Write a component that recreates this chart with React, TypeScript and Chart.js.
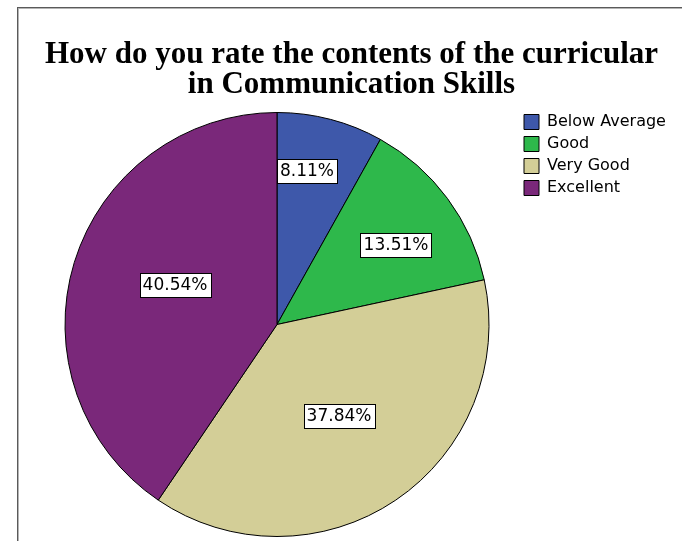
import React, { useEffect, useRef } from "react";
import { Chart, registerables } from "chart.js";

Chart.register(...registerables);

const categories = ["Below Average", "Good", "Very Good", "Excellent"];
const percentages = [8.11, 13.51, 37.84, 40.54];
const titleLines = ["How do you rate the contents of the curricular", "in Communication Skills"];
const sliceColors = ["#3e58aa", "#2eb84b", "#d3ce97", "#7a287a"];
const labelRadiusFactors = [0.74, 0.676, 0.523, 0.515];
const labelAngleFractions = [0.38, 0.553, 0.5, 0.527];

const sliceLabelPlugin = {
  id: "sliceLabels",
  afterDatasetsDraw(chart: any) {
    const ctx = chart.ctx;
    const meta = chart.getDatasetMeta(0);
    ctx.save();
    ctx.font = '17px "DejaVu Sans"';
    ctx.textAlign = "center";
    ctx.textBaseline = "middle";
    meta.data.forEach((arc: any, i: number) => {
      const p = arc.getProps(["x", "y", "startAngle", "endAngle", "outerRadius"], true);
      const ang = p.startAngle + (p.endAngle - p.startAngle) * labelAngleFractions[i];
      const r = p.outerRadius * labelRadiusFactors[i];
      const cx = p.x + Math.cos(ang) * r;
      const cy = p.y + Math.sin(ang) * r;
      const text = percentages[i].toFixed(2) + "%";
      const w = Math.round(ctx.measureText(text).width + 6);
      const h = 24;
      const bx = Math.round(cx - w / 2) + 0.5;
      const by = Math.round(cy - h / 2) + 0.5;
      ctx.fillStyle = "#ffffff";
      ctx.fillRect(bx, by, w, h);
      ctx.strokeStyle = "#000000";
      ctx.lineWidth = 1;
      ctx.strokeRect(bx, by, w, h);
      ctx.fillStyle = "#000000";
      ctx.fillText(text, Math.round(cx), Math.round(cy) + 1);
    });
    ctx.restore();
  },
};

export default function App() {
  const canvasRef = useRef<HTMLCanvasElement | null>(null);

  useEffect(() => {
    if (!canvasRef.current) return;
    const chart = new Chart(canvasRef.current, {
      type: "pie",
      data: {
        labels: categories,
        datasets: [
          {
            data: percentages,
            backgroundColor: sliceColors,
            borderColor: "#000000",
            borderWidth: 1,
          },
        ],
      },
      options: {
        responsive: false,
        animation: false,
        devicePixelRatio: 1,
        radius: 212,
        layout: { padding: { left: 17, right: 15, top: 0, bottom: 0 } },
        plugins: {
          title: {
            display: true,
            text: titleLines,
            color: "#000000",
            font: { family: "Liberation Serif", size: 31, weight: "bold", lineHeight: "30px" },
            padding: { top: 31, bottom: 8 },
          },
          legend: {
            display: true,
            position: "right",
            align: "start",
            fullSize: false,
            maxWidth: 149,
            labels: {
              boxWidth: 15,
              boxHeight: 15,
              padding: 6,
              color: "#000000",
              font: { family: "DejaVu Sans", size: 16 },
            },
          },
          tooltip: { enabled: false },
        },
      } as any,
      plugins: [sliceLabelPlugin],
    });
    return () => chart.destroy();
  }, []);

  return (
    <div style={{ position: "absolute", left: 0, top: 0, width: 682, height: 541, background: "#ffffff", overflow: "hidden" }}>
      <div style={{ position: "absolute", left: 17, top: 7, right: 0, bottom: 0, borderLeft: "1px solid #5a5a5a", borderTop: "1px solid #5a5a5a" }}>
        <div style={{ position: "absolute", left: 0, top: 0, right: 0, bottom: 0, borderLeft: "1px solid #b4b4b4", borderTop: "1px solid #b4b4b4" }} />
      </div>
      <canvas ref={canvasRef} width={663} height={532} style={{ position: "absolute", left: 19, top: 9, width: 663, height: 532 }} />
    </div>
  );
}
